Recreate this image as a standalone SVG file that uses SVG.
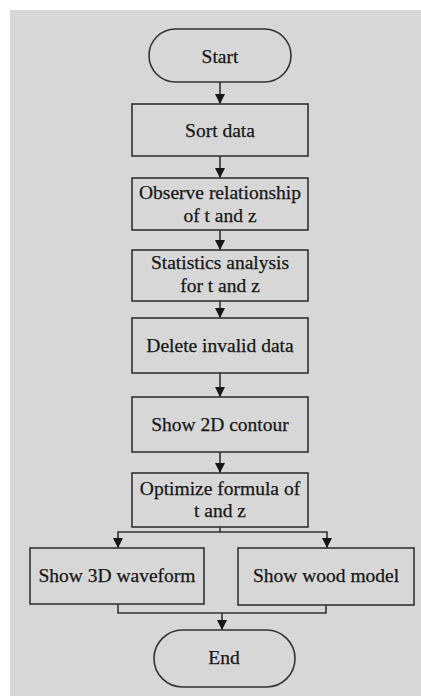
<svg xmlns="http://www.w3.org/2000/svg" width="421" height="696" viewBox="0 0 421 696">
<style>
.box{fill:none;stroke:#333333;stroke-width:1.6}
.ln{fill:none;stroke:#333333;stroke-width:1.6}
text{font-family:"Liberation Serif","Times New Roman",serif;font-size:19.5px;fill:#161616;text-anchor:middle;stroke:#161616;stroke-width:0.25}
</style>
<defs>
<marker id="ah" viewBox="0 0 10 10" refX="10" refY="5" markerWidth="10" markerHeight="10" markerUnits="userSpaceOnUse" orient="auto">
<path d="M0,0 L10,5 L0,10 Z" fill="#161616"/>
</marker>
</defs>
<rect width="421" height="696" fill="#ffffff"/>
<rect x="10" y="10" width="411" height="686" fill="#d7d7d7"/>
<g id="connectors">
<line class="ln" x1="220" y1="82" x2="220" y2="104" marker-end="url(#ah)"/>
<line class="ln" x1="220" y1="156" x2="220" y2="178" marker-end="url(#ah)"/>
<line class="ln" x1="220" y1="230" x2="220" y2="250" marker-end="url(#ah)"/>
<line class="ln" x1="220" y1="301" x2="220" y2="318" marker-end="url(#ah)"/>
<line class="ln" x1="220" y1="373" x2="220" y2="397" marker-end="url(#ah)"/>
<line class="ln" x1="220" y1="452" x2="220" y2="473" marker-end="url(#ah)"/>
<polyline class="ln" points="220,527 220,532 118,532 118,548" marker-end="url(#ah)"/>
<polyline class="ln" points="220,532 327,532 327,548" marker-end="url(#ah)"/>
<polyline class="ln" points="118,604 118,613 326,613 326,605"/>
<line class="ln" x1="222" y1="613" x2="222" y2="630" marker-end="url(#ah)"/>
</g>
<g id="start">
<rect class="box" x="149" y="29" width="142" height="53" rx="26.5"/>
<text x="220" y="63">Start</text>
</g>
<g id="sort">
<rect class="box" x="132" y="104" width="176" height="52"/>
<text x="220" y="137">Sort data</text>
</g>
<g id="observe">
<rect class="box" x="132" y="178" width="176" height="52"/>
<text x="220" y="199">Observe relationship</text>
<text x="220" y="222">of t and z</text>
</g>
<g id="statistics">
<rect class="box" x="132" y="250" width="176" height="51"/>
<text x="220" y="269">Statistics analysis</text>
<text x="220" y="292">for t and z</text>
</g>
<g id="delete">
<rect class="box" x="132" y="318" width="176" height="55"/>
<text x="220" y="352">Delete invalid data</text>
</g>
<g id="contour">
<rect class="box" x="132" y="397" width="176" height="55"/>
<text x="220" y="431">Show 2D contour</text>
</g>
<g id="optimize">
<rect class="box" x="132" y="473" width="176" height="54"/>
<text x="220" y="495">Optimize formula of</text>
<text x="220" y="517">t and z</text>
</g>
<g id="waveform">
<rect class="box" x="30" y="548" width="174" height="56"/>
<text x="117" y="582">Show 3D waveform</text>
</g>
<g id="wood">
<rect class="box" x="238" y="548" width="176" height="57"/>
<text x="326" y="582">Show wood model</text>
</g>
<g id="end">
<rect class="box" x="154" y="630" width="141" height="57" rx="28.5"/>
<text x="224" y="664">End</text>
</g>
</svg>
